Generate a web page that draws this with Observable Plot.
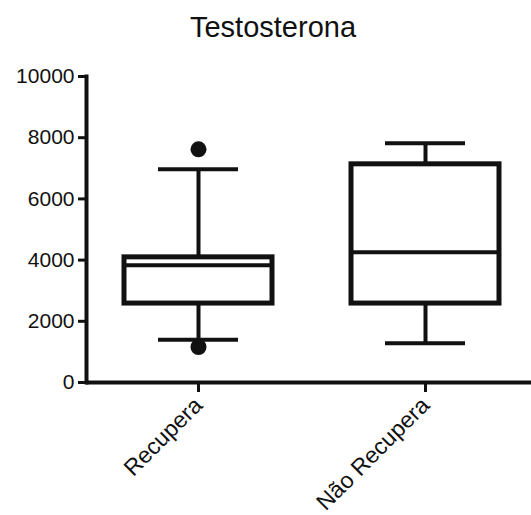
<!DOCTYPE html>
<html>
<head>
<meta charset="utf-8">
<script src="https://cdn.jsdelivr.net/npm/d3@7"></script>
<script src="https://cdn.jsdelivr.net/npm/@observablehq/plot@0.6"></script>
<style>
  body { margin: 0; background: #fff; width: 531px; height: 515px; overflow: hidden; }
  #title { height: 50px; font: 29px "Liberation Sans", Arial, sans-serif; line-height: 54px; text-align: center; padding-left: 15px; color: #111; }
  #chart svg { display: block; }
</style>
</head>
<body>
<div id="title">Testosterona</div>
<div id="chart"></div>
<script>
const groups = ["Recupera", "Não Recupera"];
const q1 = [2580, 2580];
const medians = [3830, 4260];
const q3 = [4090, 7130];
const whiskerLow = [1400, 1280];
const whiskerHigh = [6970, 7820];
const outlierGroups = ["Recupera", "Recupera"];
const outlierValues = [7620, 1160];
const yTicks = [0, 2000, 4000, 6000, 8000, 10000];

const boxes = groups.map((g, i) => ({
  group: g, q1: q1[i], median: medians[i], q3: q3[i], lo: whiskerLow[i], hi: whiskerHigh[i]
}));
const outliers = outlierGroups.map((g, i) => ({group: g, value: outlierValues[i]}));

const font = '"Liberation Sans", Arial, sans-serif';

const plot = Plot.plot({
  width: 531,
  height: 465,
  marginTop: 26,
  marginBottom: 133,
  marginLeft: 86,
  marginRight: 0,
  style: {fontFamily: font, color: "#111", background: "#fff"},
  x: {domain: groups, paddingInner: 0.348, paddingOuter: 0.154, align: 0.55, label: null},
  y: {domain: [0, 10000], label: null},
  marks: [
    Plot.ruleX(boxes, {x: "group", y1: "q3", y2: "hi", stroke: "#111", strokeWidth: 4}),
    Plot.ruleX(boxes, {x: "group", y1: "lo", y2: "q1", stroke: "#111", strokeWidth: 4}),
    Plot.barY(boxes, {x: "group", y1: "q1", y2: "q3", fill: "#fff", stroke: "#111", strokeWidth: 5}),
    Plot.tickY(boxes, {x: "group", y: "median", stroke: "#111", strokeWidth: 4}),
    Plot.tickY(boxes, {x: "group", y: "hi", stroke: "#111", strokeWidth: 4, insetLeft: 34, insetRight: 34}),
    Plot.tickY(boxes, {x: "group", y: "lo", stroke: "#111", strokeWidth: 4, insetLeft: 34, insetRight: 34}),
    Plot.dot(outliers, {x: "group", y: "value", r: 8, fill: "#111", stroke: null}),
    Plot.frame({anchor: "left", stroke: "#111", strokeWidth: 4}),
    Plot.ruleY([0], {stroke: "#111", strokeWidth: 4}),
    Plot.axisY({ticks: yTicks, tickFormat: d => String(d), tickSize: 8, strokeWidth: 3, fontSize: 21, tickPadding: 4, label: null}),
    Plot.axisX({tickSize: 10, strokeWidth: 3, tickRotate: -45, fontSize: 23, tickPadding: 9, label: null})
  ]
});
document.getElementById("chart").appendChild(plot);
</script>
</body>
</html>
